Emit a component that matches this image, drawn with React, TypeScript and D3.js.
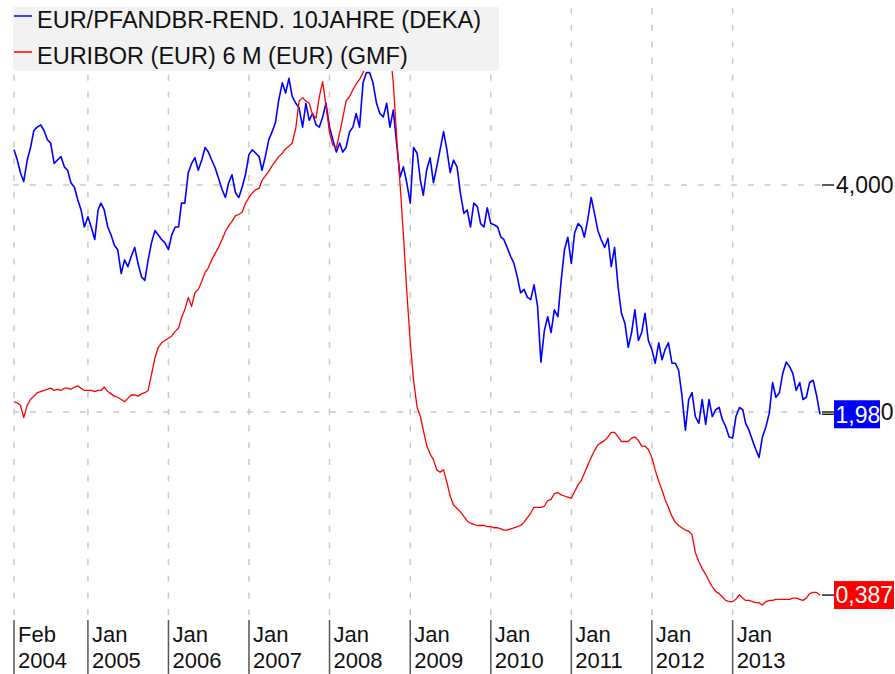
import React from "react";
import { scaleLinear, scaleTime, line } from "d3";

// semi-monthly observations, Feb 2004 .. Feb 2014 (1st and 16th of each month)
const startYear = 2004;
const startMonth = 1;

const pfandbriefYield = [
  4.31, 4.22, 4.11, 4.03, 4.22, 4.33, 4.48, 4.51, 4.53, 4.48, 4.40, 4.37, 4.19, 4.22, 4.25, 4.16, 4.13, 4.02, 3.98, 3.87, 3.78, 3.63, 3.72, 3.63,
  3.52, 3.78, 3.84, 3.78, 3.63, 3.56, 3.47, 3.43, 3.22, 3.34, 3.28, 3.37, 3.45, 3.31, 3.19, 3.16, 3.34, 3.49, 3.60, 3.56, 3.52, 3.49, 3.43, 3.56,
  3.63, 3.63, 3.84, 3.84, 4.11, 4.19, 4.24, 4.13, 4.22, 4.33, 4.29, 4.22, 4.15, 4.06, 3.96, 3.89, 4.02, 4.09, 3.93, 3.89, 3.98, 4.09, 4.27, 4.31,
  4.28, 4.25, 4.13, 4.25, 4.40, 4.47, 4.55, 4.75, 4.90, 4.81, 4.94, 4.78, 4.72, 4.68, 4.51, 4.72, 4.57, 4.63, 4.53, 4.51, 4.60, 4.72, 4.51, 4.40,
  4.29, 4.37, 4.29, 4.33, 4.47, 4.51, 4.63, 4.51, 4.90, 4.99, 4.99, 4.90, 4.72, 4.63, 4.60, 4.72, 4.51, 4.66, 4.35, 4.07, 4.16, 4.02, 3.84, 4.33,
  4.28, 4.04, 3.91, 4.13, 4.24, 4.02, 4.16, 4.31, 4.47, 4.31, 4.11, 4.22, 4.16, 3.93, 3.75, 3.78, 3.63, 3.84, 3.81, 3.66, 3.63, 3.80, 3.66, 3.65,
  3.63, 3.54, 3.52, 3.45, 3.37, 3.31, 3.19, 3.05, 3.08, 3.01, 2.99, 3.12, 2.93, 2.44, 2.72, 2.84, 2.70, 2.90, 2.84, 3.16, 3.43, 3.54, 3.31, 3.58,
  3.66, 3.63, 3.54, 3.69, 3.89, 3.75, 3.60, 3.52, 3.45, 3.53, 3.28, 3.45, 3.10, 2.87, 2.78, 2.57, 2.70, 2.90, 2.63, 2.70, 2.87, 2.63, 2.55, 2.43,
  2.61, 2.46, 2.55, 2.61, 2.43, 2.43, 2.37, 2.15, 1.84, 2.11, 2.17, 1.96, 1.90, 2.11, 1.89, 2.11, 1.96, 2.02, 2.04, 1.93, 1.87, 1.78, 1.77, 1.96,
  2.04, 2.02, 1.90, 1.84, 1.75, 1.67, 1.60, 1.78, 1.87, 1.99, 2.26, 2.13, 2.17, 2.34, 2.44, 2.40, 2.34, 2.19, 2.26, 2.11, 2.13, 2.26, 2.28, 2.15, 1.98,
];

const euribor6m = [
  2.09, 2.08, 2.06, 1.95, 2.06, 2.11, 2.14, 2.17, 2.18, 2.19, 2.20, 2.21, 2.19, 2.20, 2.19, 2.21, 2.21, 2.20, 2.22, 2.23, 2.21, 2.19, 2.19, 2.19,
  2.18, 2.19, 2.19, 2.22, 2.18, 2.16, 2.14, 2.13, 2.11, 2.09, 2.12, 2.15, 2.15, 2.14, 2.16, 2.17, 2.19, 2.33, 2.48, 2.57, 2.61, 2.63, 2.65, 2.67,
  2.71, 2.74, 2.83, 2.90, 3.01, 2.93, 3.05, 3.08, 3.15, 3.23, 3.27, 3.34, 3.40, 3.45, 3.52, 3.59, 3.64, 3.68, 3.73, 3.74, 3.76, 3.84, 3.89, 3.93,
  3.96, 3.97, 4.04, 4.08, 4.12, 4.17, 4.21, 4.25, 4.28, 4.32, 4.34, 4.37, 4.50, 4.74, 4.77, 4.74, 4.72, 4.62, 4.59, 4.78, 4.91, 4.70, 4.46, 4.35,
  4.33, 4.46, 4.59, 4.74, 4.78, 4.84, 4.89, 4.93, 4.99, 5.05, 5.12, 5.16, 5.16, 5.18, 5.25, 5.38, 5.20, 4.90, 4.40, 4.00, 3.56, 3.07, 2.61, 2.28,
  2.04, 1.96, 1.84, 1.71, 1.63, 1.58, 1.49, 1.47, 1.49, 1.38, 1.26, 1.18, 1.15, 1.12, 1.08, 1.04, 1.02, 1.01, 1.00, 1.00, 1.00, 0.99, 0.99, 0.98,
  0.98, 0.97, 0.96, 0.96, 0.97, 0.98, 0.99, 1.00, 1.03, 1.07, 1.11, 1.16, 1.16, 1.16, 1.17, 1.22, 1.23, 1.28, 1.29, 1.27, 1.26, 1.25, 1.24, 1.30,
  1.36, 1.40, 1.46, 1.53, 1.60, 1.66, 1.71, 1.73, 1.75, 1.78, 1.82, 1.82, 1.78, 1.74, 1.74, 1.74, 1.77, 1.78, 1.75, 1.70, 1.70, 1.67, 1.60, 1.49,
  1.39, 1.31, 1.23, 1.16, 1.08, 1.03, 1.00, 0.98, 0.96, 0.95, 0.92, 0.76, 0.68, 0.62, 0.57, 0.51, 0.46, 0.42, 0.40, 0.37, 0.34, 0.33, 0.33, 0.35,
  0.39, 0.36, 0.34, 0.34, 0.33, 0.32, 0.32, 0.30, 0.33, 0.34, 0.34, 0.35, 0.35, 0.35, 0.35, 0.35, 0.36, 0.36, 0.35, 0.34, 0.36, 0.40, 0.41, 0.41, 0.387,
];

const seriesNames = ["EUR/PFANDBR-REND. 10JAHRE (DEKA)", "EURIBOR (EUR) 6 M (EUR) (GMF)"];
const seriesColors = ["#0000ff", "#ff0000"];
const lastLabels = ["1,98", "0,387"];

const tickMonths = ["Feb", "Jan", "Jan", "Jan", "Jan", "Jan", "Jan", "Jan", "Jan", "Jan"];
const tickYears = ["2004", "2005", "2006", "2007", "2008", "2009", "2010", "2011", "2012", "2013"];
const yTicks = [4, 2];
const yTickLabels = ["4,000", "2,000"];

const width = 895;
const height = 674;
const font = "'Liberation Sans', Arial, sans-serif";
const gridColor = "#c8c8c8";

const obsDate = (i: number) => new Date(startYear, startMonth + Math.floor(i / 2), i % 2 ? 16 : 1);
const monthIndex: Record<string, number> = { Jan: 0, Feb: 1 };

export default function App() {
  const x = scaleTime()
    .domain([new Date(2004, 1, 1), new Date(2014, 1, 1)])
    .range([14, 820]);
  const y = scaleLinear().domain([2, 4]).range([412, 185]);

  const tickDates = tickYears.map((yr, i) => new Date(+yr, monthIndex[tickMonths[i]], 1));
  const path = line<number>()
    .x((_, i) => x(obsDate(i)))
    .y((d) => y(d));

  const series = [pfandbriefYield, euribor6m];
  const boxW = [46, 60];

  return (
    <svg
      width={width}
      height={height}
      style={{ position: "absolute", left: 0, top: 0, background: "#fff" }}
      fontFamily={font}
    >
      {/* grid */}
      {tickDates.map((d, i) => (
        <line
          key={"vg" + i}
          x1={x(d)}
          x2={x(d)}
          y1={8}
          y2={618}
          stroke={gridColor}
          strokeWidth={1.5}
          strokeDasharray="6,10.7"
        />
      ))}
      {yTicks.map((t, i) => (
        <line
          key={"hg" + i}
          x1={13}
          x2={822}
          y1={y(t)}
          y2={y(t)}
          stroke={gridColor}
          strokeWidth={1.5}
          strokeDasharray="6,10.7"
        />
      ))}

      {/* lines */}
      {series.map((s, k) => (
        <path
          key={"s" + k}
          d={path(s) || ""}
          fill="none"
          stroke={seriesColors[k]}
          strokeWidth={k === 0 ? 1.6 : 1.3}
          strokeLinejoin="round"
        />
      ))}

      {/* right axis */}
      {yTicks.map((t, i) => (
        <g key={"yt" + i} transform={`translate(0,${y(t)})`}>
          <line x1={822} x2={834} stroke="#222" strokeWidth={1.5} />
          <text x={836} dy="0.36em" fontSize={23} fill="#111">
            {yTickLabels[i]}
          </text>
        </g>
      ))}

      {/* last value boxes */}
      {series.map((s, k) => {
        const yy = y(s[s.length - 1]);
        return (
          <g key={"lv" + k}>
            <line x1={822} x2={834} y1={yy} y2={yy} stroke="#222" strokeWidth={1.5} />
            <rect x={834} y={yy - 14} width={boxW[k]} height={28} fill={seriesColors[k]} />
            <text x={835.5} y={yy} dy="0.36em" fontSize={23} fill="#fff">
              {lastLabels[k]}
            </text>
          </g>
        );
      })}

      {/* bottom axis */}
      {tickDates.map((d, i) => (
        <g key={"xt" + i} transform={`translate(${x(d)},0)`}>
          <line y1={620} y2={674} stroke="#555" strokeWidth={1.5} />
          <text x={4} y={642} fontSize={22} fill="#111">
            {tickMonths[i]}
          </text>
          <text x={4} y={668} fontSize={22} fill="#111">
            {tickYears[i]}
          </text>
        </g>
      ))}

      {/* legend */}
      <rect x={13} y={7} width={486} height={64} fill="#f2f2f2" />
      {seriesNames.map((n, k) => (
        <g key={"lg" + k} transform={`translate(0,${k * 36})`}>
          <line x1={14} x2={32} y1={16} y2={16} stroke={seriesColors[k]} strokeWidth={1.5} />
          <text x={37} y={28} fontSize={23.5} fill="#111">
            {n}
          </text>
        </g>
      ))}
    </svg>
  );
}
